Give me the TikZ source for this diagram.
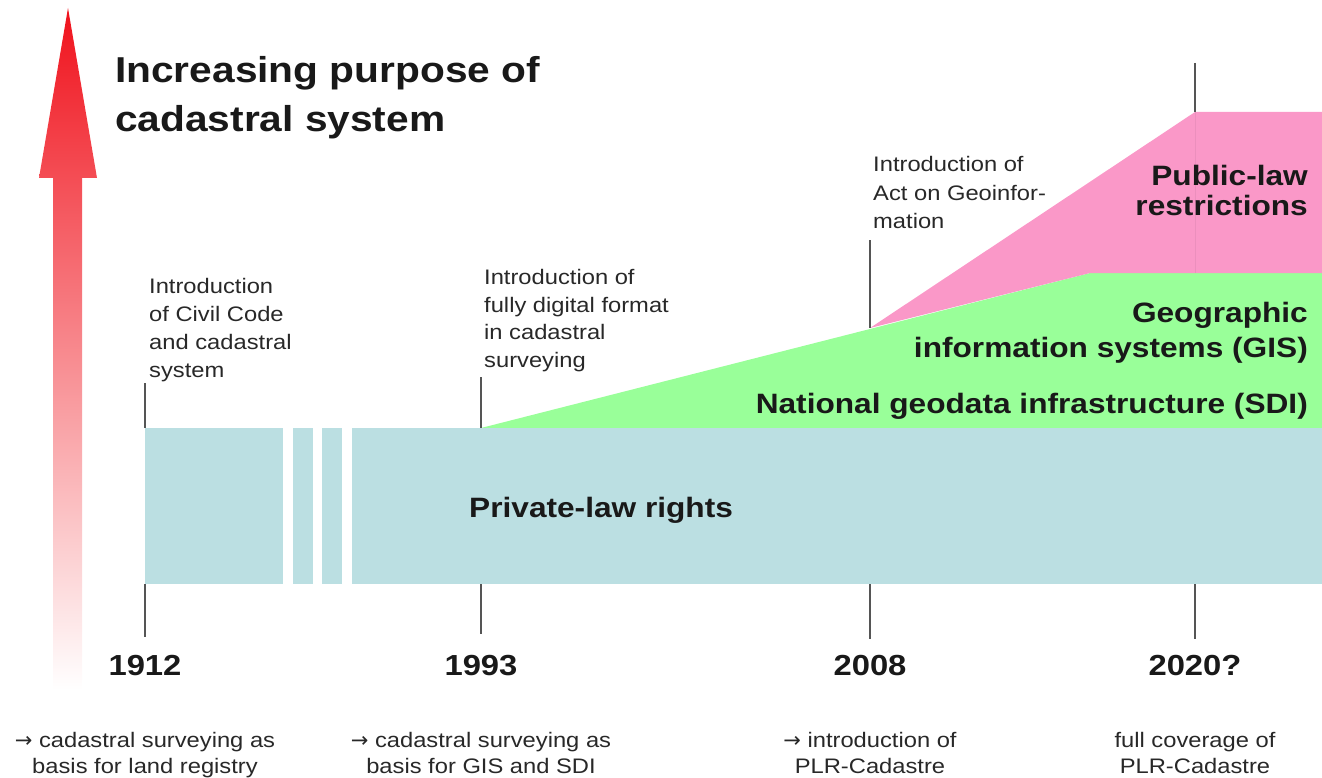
\documentclass[tikz,border=0pt]{standalone}
\usepackage{fontspec}
\setmainfont{Liberation Sans}[FakeStretch=1.13]
\newfontfamily\arrowfont{DejaVu Sans}
\definecolor{bandblue}{RGB}{187,223,226}
\definecolor{geogreen}{RGB}{153,255,153}
\definecolor{plrpink}{RGB}{250,152,200}
\definecolor{notegray}{RGB}{40,40,40}
\definecolor{tickgray}{RGB}{85,85,85}
\definecolor{arrowred}{RGB}{240,18,28}
\newcommand{\resarrow}{{\arrowfont →}}
\begin{document}
\begin{tikzpicture}[x=1pt,y=-1pt,
  note/.style={anchor=base west, inner sep=0, align=left, text=notegray,
    font=\fontsize{21}{28}\selectfont},
  layerlabel/.style={anchor=base east, inner sep=0, align=right, text=black!90,
    font=\fontsize{28}{30}\selectfont\bfseries},
  yearlabel/.style={anchor=base, inner sep=0, text=black!90,
    font=\fontsize{29}{30}\selectfont\bfseries},
  outcome/.style={anchor=base, inner sep=0, align=center, text=notegray,
    font=\fontsize{21}{26}\selectfont},
  tick/.style={draw=tickgray, line width=1.2pt}]
\useasboundingbox (0,0) rectangle (1322,778);

% rising arrow, fading from red at the tip to white at the foot
\shade[top color=arrowred, bottom color=white]
  (68,8) -- (97,178) -- (82,178) -- (82,690) -- (53,690) -- (53,178) -- (39,178) -- cycle;

% (multi-line nodes are anchored on the baseline of their last line)
\node[anchor=base west, inner sep=0, align=left, text=black!90,
      font=\fontsize{36}{49}\selectfont\bfseries] (title) at (115,132)
  {Increasing purpose of\\cadastral system};

% layers
\fill[geogreen] (481,428) -- (1090,273) -- (1322,273) -- (1322,428) -- cycle;
\fill[plrpink] (870,328) -- (1195,112) -- (1322,112) -- (1322,273) -- (1090,273) -- cycle;
\draw[plrpink!85!black, line width=0.6pt, opacity=0.35] (1195,112) -- (1195,273);
\fill[bandblue] (145,428) rectangle (283,584);
\fill[bandblue] (293,428) rectangle (313,584);
\fill[bandblue] (322,428) rectangle (342,584);
\fill[bandblue] (352,428) rectangle (1322,584);

% milestone ticks
\coordinate (a1912) at (145,383);  \coordinate (b1912) at (145,428);
\coordinate (c1912) at (145,584);  \coordinate (d1912) at (145,637);
\coordinate (a1993) at (481,377);  \coordinate (b1993) at (481,428);
\coordinate (c1993) at (481,584);  \coordinate (d1993) at (481,634);
\coordinate (a2008) at (870,240);  \coordinate (b2008) at (870,328);
\coordinate (c2008) at (870,584);  \coordinate (d2008) at (870,639);
\coordinate (a2020) at (1195,63);  \coordinate (b2020) at (1195,112);
\coordinate (c2020) at (1195,584); \coordinate (d2020) at (1195,639);
\foreach \y in {1912,1993,2008,2020} {
  \draw[tick] (a\y) -- (b\y);
  \draw[tick] (c\y) -- (d\y);
}

% event notes
\node[note] (n1912) at (149,377) {Introduction\\of Civil Code\\and cadastral\\system};
\node[note, font=\fontsize{21}{27.5}\selectfont] (n1993) at (484,367)
  {Introduction of\\fully digital format\\in cadastral\\surveying};
\node[note, font=\fontsize{21}{28.5}\selectfont] (n2008) at (873,229)
  {Introduction of\\Act on Geoinfor-\\mation};

% layer labels
\node[anchor=base west, inner sep=0, text=black!90,
      font=\fontsize{28}{30}\selectfont\bfseries] (private) at (469,517) {Private-law rights};
\node[layerlabel] (public) at (1308,215) {Public-law\\restrictions};
\node[layerlabel, font=\fontsize{28}{35}\selectfont\bfseries] (gis) at (1308,357)
  {Geographic\\information systems (GIS)};
\node[layerlabel] (sdi) at (1308,413) {National geodata infrastructure (SDI)};

% years
\node[yearlabel] (y1912) at (145,675) {1912};
\node[yearlabel] (y1993) at (481,675) {1993};
\node[yearlabel] (y2008) at (870,675) {2008};
\node[yearlabel] (y2020) at (1195,675) {2020?};

% outcomes
\node[outcome] (o1912) at (145,773) {\resarrow{} cadastral surveying as\\basis for land registry};
\node[outcome] (o1993) at (481,773) {\resarrow{} cadastral surveying as\\basis for GIS and SDI};
\node[outcome] (o2008) at (870,773) {\resarrow{} introduction of\\PLR-Cadastre};
\node[outcome] (o2020) at (1195,773) {full coverage of\\PLR-Cadastre};
\end{tikzpicture}
\end{document}
